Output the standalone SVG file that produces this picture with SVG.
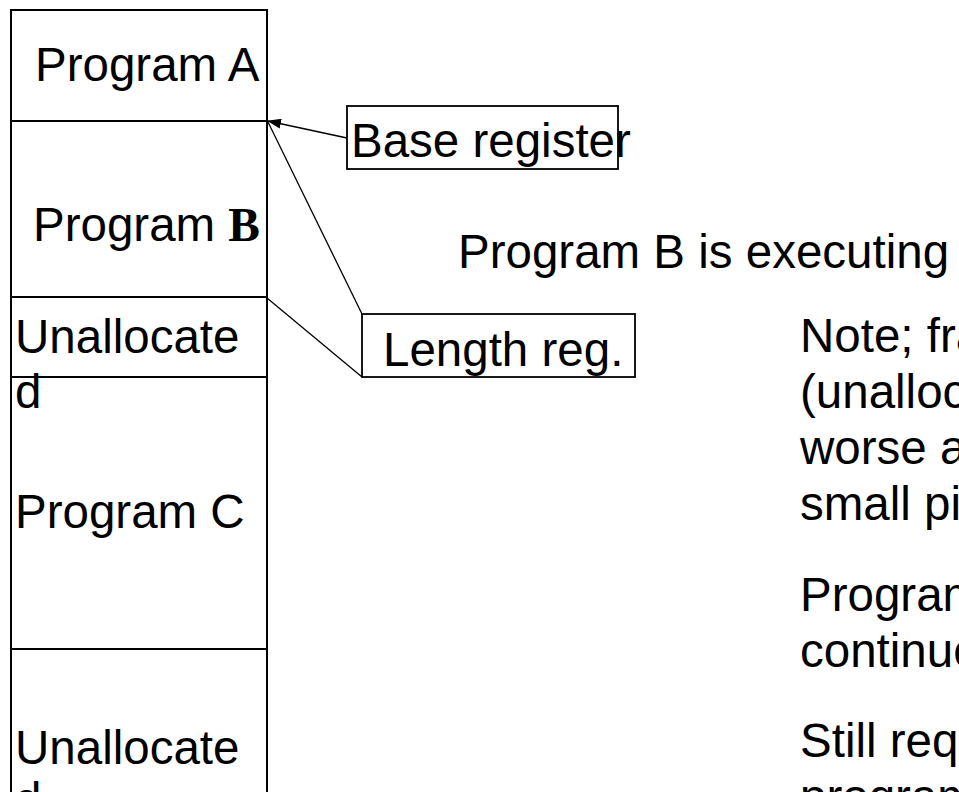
<svg xmlns="http://www.w3.org/2000/svg" width="959" height="792" viewBox="0 0 959 792">
<style>
  .t { font-family: "Liberation Sans", Arial, sans-serif; font-size: 47.5px; fill: #000; }
  .mem { fill: none; stroke: #000; stroke-width: 2; }
  .box { fill: #fff; stroke: #000; stroke-width: 1.8; }
  .conn { stroke: #000; stroke-width: 1.3; fill: none; }
</style>
<defs>
  <marker id="ah" markerWidth="14" markerHeight="10" refX="13" refY="5" orient="auto" markerUnits="userSpaceOnUse">
    <path d="M0,0 L14,5 L0,10 Z" fill="#000"/>
  </marker>
</defs>
<rect width="959" height="792" fill="#fff"/>
<g id="memory">
  <rect class="mem" x="11" y="10" width="256" height="800"/>
  <line class="mem" x1="11" y1="121" x2="267" y2="121"/>
  <line class="mem" x1="11" y1="297" x2="267" y2="297"/>
  <line class="mem" x1="11" y1="377" x2="267" y2="377"/>
  <line class="mem" x1="11" y1="649" x2="267" y2="649"/>
</g>
<g id="programA"><text class="t" x="35" y="81">Program A</text></g>
<g id="programB"><text class="t" x="33" y="241">Program <tspan font-family="Liberation Serif, Times New Roman, serif" font-weight="bold">B</tspan></text></g>
<g id="unallocated1"><text class="t" x="15" y="353">Unallocate</text><text class="t" x="15" y="408">d</text></g>
<g id="programC"><text class="t" x="15" y="528">Program C</text></g>
<g id="unallocated2"><text class="t" x="15" y="764">Unallocate</text><text class="t" x="15" y="816">d</text></g>
<g id="connectors">
  <line class="conn" x1="347" y1="138" x2="268" y2="121" marker-end="url(#ah)"/>
  <line class="conn" x1="268" y1="122" x2="362" y2="314"/>
  <line class="conn" x1="267" y1="298" x2="362" y2="377"/>
</g>
<g id="baseRegister">
  <rect class="box" x="347" y="106" width="271" height="63"/>
  <text class="t" x="351" y="157">Base register</text>
</g>
<g id="lengthReg">
  <rect class="box" x="362" y="314" width="273" height="63"/>
  <text class="t" x="383" y="366">Length reg.</text>
</g>
<g id="status"><text class="t" x="458" y="268">Program B is executing</text></g>
<g id="note">
  <text class="t" x="800" y="352">Note; fra</text>
  <text class="t" x="800" y="408">(unalloc</text>
  <text class="t" x="800" y="464">worse a</text>
  <text class="t" x="800" y="520">small pi</text>
  <text class="t" x="800" y="611">Program</text>
  <text class="t" x="800" y="667">continue</text>
  <text class="t" x="800" y="757">Still req</text>
  <text class="t" x="800" y="813">program</text>
</g>
</svg>
